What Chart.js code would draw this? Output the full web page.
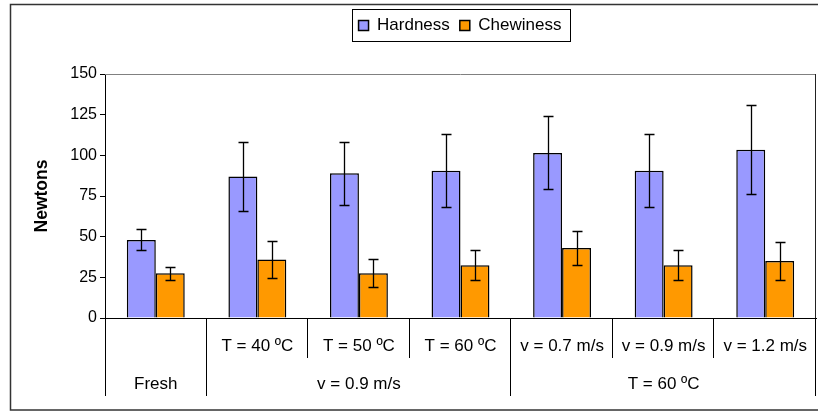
<!DOCTYPE html>
<html>
<head>
<meta charset="utf-8">
<script src="https://cdn.jsdelivr.net/npm/chart.js@4/dist/chart.umd.min.js"></script>
<style>
  body { margin: 0; background: #fff; }
  #wrap { width: 818px; height: 412px; }
</style>
</head>
<body>
<div id="wrap"><canvas id="chart-canvas"></canvas></div>
<script>
var categories = ["", "T = 40 ºC", "T = 50 ºC", "T = 60 ºC", "v = 0.7 m/s", "v = 0.9 m/s", "v = 1.2 m/s"];
var groupLabels = ["Fresh", "v = 0.9 m/s", "T = 60 ºC"];
var groupSizes = [1, 3, 3];
var hardness = [48, 87, 89, 90.5, 101.5, 90.5, 103.5];
var hardnessErr = [6.5, 21, 19.5, 22.5, 22.5, 22.5, 27.5];
var chewiness = [27.5, 36, 27.5, 32.5, 43, 32.5, 35];
var chewinessErr = [4, 11.5, 8.5, 9, 10.5, 9, 11.5];
var yTicks = [0, 25, 50, 75, 100, 125, 150];

var fontFamily = "'Liberation Sans', Arial, sans-serif";
Chart.defaults.font.family = fontFamily;
Chart.defaults.font.size = 16;
Chart.defaults.color = "#000";

// outer frame, plot frame, error bars, second row of category labels
var extrasPlugin = {
    id: "extras",
    afterLayout: function (chart) {
        // legend sits near the top, a bit right of centre like the original
        var lg = chart.legend;
        if (!lg) return;
        var h = lg.height;
        lg.top = 7;
        lg.bottom = 7 + h;
        lg.left += 52;
        lg.right += 52;
    },
    beforeDraw: function (chart) {
        var ctx = chart.ctx;
        ctx.save();
        ctx.fillStyle = "#fff";
        ctx.fillRect(0, 0, chart.width, chart.height);
        ctx.strokeStyle = "#333";
        ctx.lineWidth = 1.5;
        ctx.strokeRect(10.5, 4.5, chart.width, 405.5);
        ctx.restore();
    },
    afterDatasetsDraw: function (chart) {
        var ctx = chart.ctx;
        var y = chart.scales.y;
        var errs = [hardnessErr, chewinessErr];
        ctx.save();
        ctx.strokeStyle = "#000";
        ctx.lineWidth = 1.3;
        chart.data.datasets.forEach(function (ds, di) {
            var meta = chart.getDatasetMeta(di);
            meta.data.forEach(function (bar, i) {
                var v = ds.data[i], e = errs[di][i];
                var top = Math.round(y.getPixelForValue(v + e)) + 0.5;
                var bot = Math.round(y.getPixelForValue(v - e)) + 0.5;
                var x = Math.round(bar.x) + 0.5;
                ctx.beginPath();
                ctx.moveTo(x, top); ctx.lineTo(x, bot);
                ctx.moveTo(x - 5, top); ctx.lineTo(x + 5, top);
                ctx.moveTo(x - 5, bot); ctx.lineTo(x + 5, bot);
                ctx.stroke();
            });
        });
        ctx.restore();
    },
    afterDraw: function (chart) {
        var ctx = chart.ctx;
        var area = chart.chartArea;
        var xs = chart.scales.x;
        ctx.save();
        // plot frame top / right
        ctx.lineWidth = 1;
        ctx.strokeStyle = "#808080";
        ctx.beginPath();
        ctx.moveTo(area.left, area.top + 0.5); ctx.lineTo(area.right, area.top + 0.5);
        ctx.stroke();
        ctx.strokeStyle = "#222";
        ctx.beginPath();
        ctx.moveTo(area.right - 0.5, area.top); ctx.lineTo(area.right - 0.5, area.bottom);
        ctx.stroke();

        // category boundaries
        var bounds = [];
        for (var i = 0; i <= categories.length; i++) {
            if (i === 0) bounds.push(area.left);
            else if (i === categories.length) bounds.push(area.right);
            else bounds.push((xs.getPixelForValue(i - 1) + xs.getPixelForValue(i)) / 2);
        }
        var groupEdges = [0];
        groupSizes.forEach(function (n) { groupEdges.push(groupEdges[groupEdges.length - 1] + n); });
        ctx.strokeStyle = "#000";
        bounds.forEach(function (bx, i) {
            var long = groupEdges.indexOf(i) >= 0;
            var px = Math.round(bx) - 0.5;
            if (i === 0) px = Math.round(bx) + 0.5;
            ctx.beginPath();
            ctx.moveTo(px, area.bottom);
            ctx.lineTo(px, long ? 396 : 358);
            ctx.stroke();
        });

        // group labels
        ctx.fillStyle = "#000";
        ctx.font = "17px " + fontFamily;
        ctx.textAlign = "center";
        ctx.textBaseline = "middle";
        groupLabels.forEach(function (lab, g) {
            var cx = (bounds[groupEdges[g]] + bounds[groupEdges[g + 1]]) / 2;
            ctx.fillText(lab, cx, 384);
        });

        // legend frame
        var lg = chart.legend;
        if (lg && lg.legendHitBoxes && lg.legendHitBoxes.length) {
            var hb = lg.legendHitBoxes;
            var l = hb[0].left - 7;
            var r = hb[hb.length - 1].left + hb[hb.length - 1].width + 8;
            ctx.strokeStyle = "#000";
            ctx.strokeRect(Math.round(l) + 0.5, 9.5, Math.round(r - l), 32);
        }
        ctx.restore();
    }
};

var chartElement = document.getElementById("chart-canvas");
var textureChart = new Chart(chartElement, {
    type: "bar",
    data: {
        labels: categories,
        datasets: [{
            label: "Hardness",
            data: hardness,
            backgroundColor: "#9999FF",
            borderColor: "#000",
            borderWidth: 1.5
        },
        {
            label: "Chewiness",
            data: chewiness,
            backgroundColor: "#FF9900",
            borderColor: "#000",
            borderWidth: 1.5
        }]
    },
    options: {
        responsive: true,
        maintainAspectRatio: false,
        animation: false,
        events: [],
        layout: { padding: { top: 7, right: 2, bottom: 0, left: 0 } },
        datasets: { bar: { categoryPercentage: 0.57, barPercentage: 1.0 } },
        plugins: {
            tooltip: { enabled: false },
            legend: {
                position: "top",
                labels: {
                    boxWidth: 10,
                    boxHeight: 10,
                    padding: 10,
                    font: { size: 17, family: fontFamily },
                    color: "#000"
                }
            }
        },
        scales: {
            x: {
                grid: { display: false, drawTicks: false },
                border: { display: true, color: "#000", width: 1 },
                ticks: { padding: 18, maxRotation: 0, autoSkip: false, font: { size: 17 } },
                afterFit: function (s) { s.height = 94; s.paddingLeft = 0; s.paddingRight = 0; }
            },
            y: {
                min: 0,
                max: 150,
                afterBuildTicks: function (s) { s.ticks = yTicks.map(function (v) { return { value: v }; }); },
                grid: { drawOnChartArea: false, tickLength: 5, color: "#000" },
                border: { display: true, color: "#000", width: 1 },
                ticks: { padding: 3, font: { size: 16 } },
                title: {
                    display: true,
                    text: "Newtons",
                    font: { size: 17.5, weight: "bold" },
                    padding: { top: 32, bottom: 0 }
                },
                afterFit: function (s) { s.width = 105; s.paddingTop = 74; }
            }
        }
    },
    plugins: [extrasPlugin]
});
</script>
</body>
</html>
